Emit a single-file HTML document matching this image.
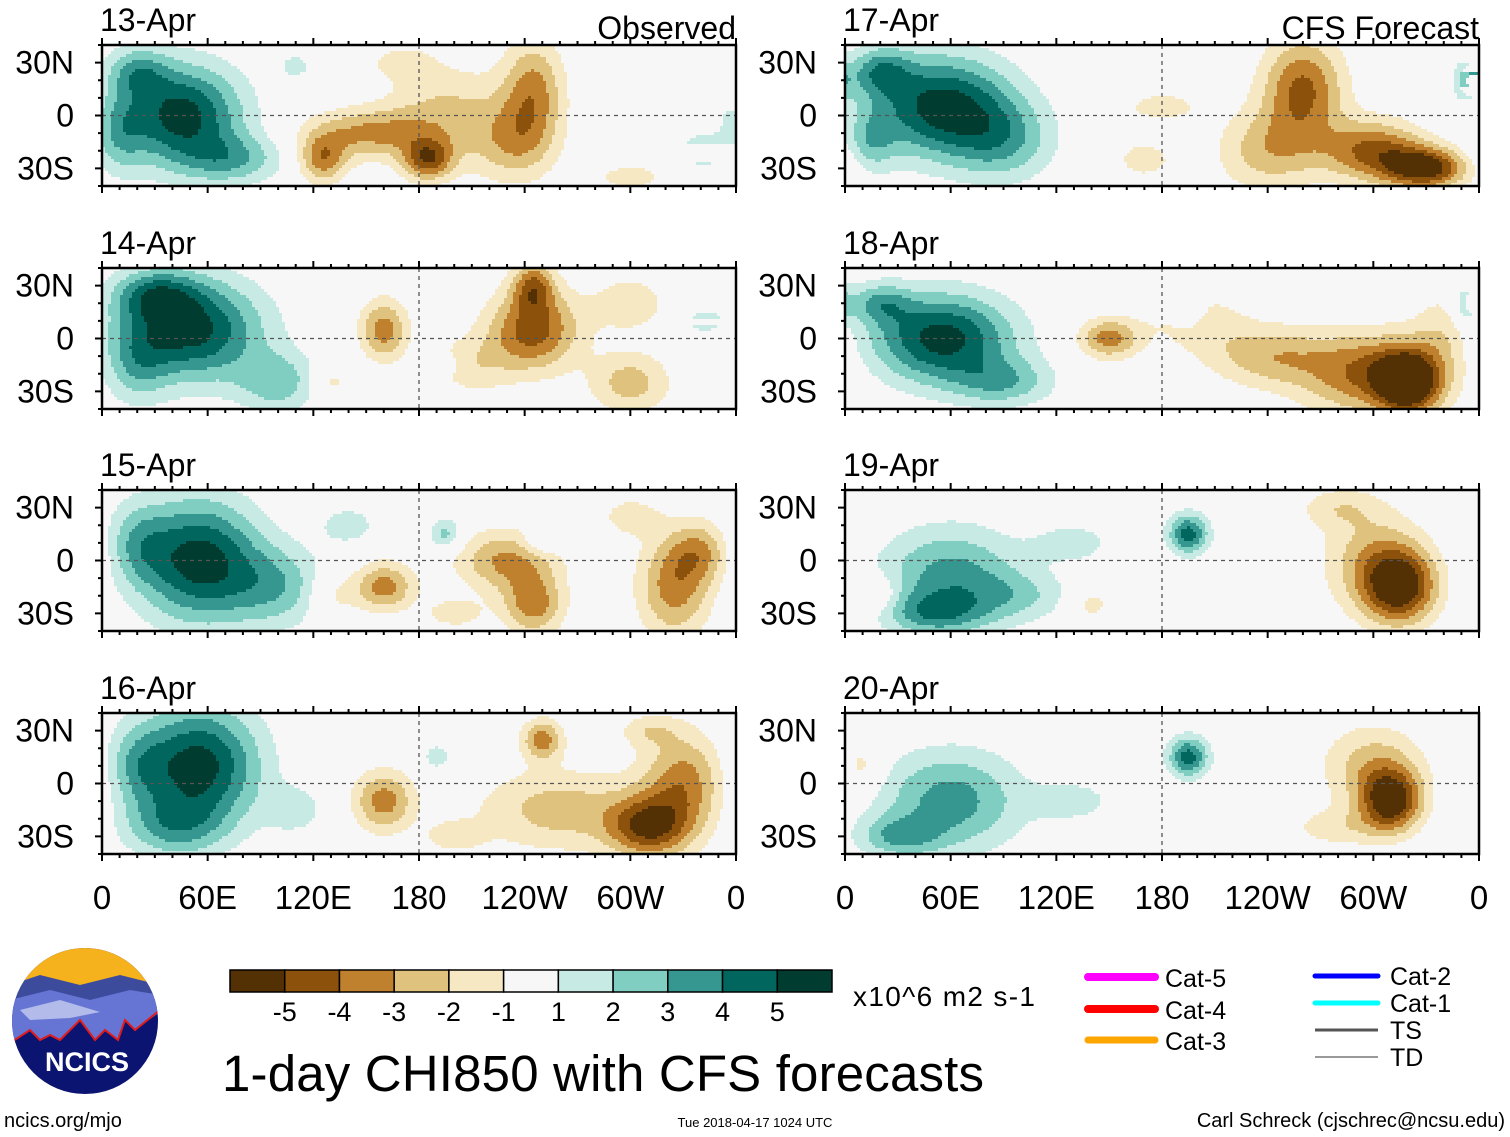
<!DOCTYPE html>
<html><head><meta charset="utf-8"><style>
body{margin:0;background:#fff;}
svg{display:block;font-family:"Liberation Sans",sans-serif;}
</style></head><body>
<svg id="fig" width="1510" height="1137" viewBox="0 0 1510 1137" xmlns="http://www.w3.org/2000/svg">
<g id="panels"></g>
<g id="cbar"></g>
<text x="853" y="1006" font-size="28" textLength="182">x10^6 m2 s-1</text>
<text x="222" y="1091" font-size="51" textLength="762">1-day CHI850 with CFS forecasts</text>
<text x="4" y="1127" font-size="20">ncics.org/mjo</text>
<text x="755" y="1127" font-size="13" text-anchor="middle">Tue 2018-04-17 1024 UTC</text>
<text x="1505" y="1127" font-size="20" text-anchor="end">Carl Schreck (cjschrec@ncsu.edu)</text>
<g>
<clipPath id="lc"><circle cx="85" cy="1021" r="73"/></clipPath>
<g clip-path="url(#lc)">
<rect x="10" y="945" width="150" height="155" fill="#0b1470"/>
<rect x="10" y="945" width="150" height="45" fill="#f6b21c"/>
<path d="M10 985 L40 975 L80 985 L120 975 L160 985 L160 1010 L10 1010Z" fill="#3d4b9c"/>
<path d="M10 1000 L50 990 L90 1000 L130 990 L160 995 L160 1012 L135 1030 L125 1020 L118 1040 L105 1030 L95 1040 L80 1020 L60 1040 L50 1035 L40 1040 L30 1030 L10 1043Z" fill="#6675d4"/>
<path d="M20 1010 L60 1000 L100 1012 L70 1018 L30 1020Z" fill="#b3bbea"/>
<path d="M10 1043 L30 1030 L40 1040 L50 1035 L60 1040 L80 1020 L95 1040 L105 1030 L118 1040 L125 1020 L135 1030 L160 1010" fill="none" stroke="#e01b1b" stroke-width="2"/>
</g>
<text x="87" y="1071" font-size="27" font-weight="bold" fill="#fff" text-anchor="middle">NCICS</text>
</g>
<g font-size="25">
<line x1="1088" y1="977" x2="1155" y2="977" stroke="#ff00ff" stroke-width="8" stroke-linecap="round"/><text x="1165" y="987">Cat-5</text>
<line x1="1088" y1="1009" x2="1155" y2="1009" stroke="#ff0000" stroke-width="8" stroke-linecap="round"/><text x="1165" y="1019">Cat-4</text>
<line x1="1088" y1="1040" x2="1155" y2="1040" stroke="#ffa500" stroke-width="7" stroke-linecap="round"/><text x="1165" y="1050">Cat-3</text>
<line x1="1315" y1="976" x2="1378" y2="976" stroke="#0000ff" stroke-width="5" stroke-linecap="round"/><text x="1390" y="985">Cat-2</text>
<line x1="1315" y1="1003" x2="1378" y2="1003" stroke="#00ffff" stroke-width="5" stroke-linecap="round"/><text x="1390" y="1012">Cat-1</text>
<line x1="1315" y1="1030" x2="1378" y2="1030" stroke="#555" stroke-width="3"/><text x="1390" y="1039">TS</text>
<line x1="1315" y1="1057" x2="1378" y2="1057" stroke="#999" stroke-width="2"/><text x="1390" y="1066">TD</text>
</g>
</svg>
<script>
const panelTitles = ["13-Apr","14-Apr","15-Apr","16-Apr","17-Apr","18-Apr","19-Apr","20-Apr"];
const lonTicks = [0,60,120,180,240,300,360];
const lonLabels = ["0","60E","120E","180","120W","60W","0"];
const latTicks = [30,0,-30];
const latLabels = ["30N","0","30S"];
const cbarLevels = ["-5","-4","-3","-2","-1","1","2","3","4","5"];
const cbarColors = ["#543005","#8c510a","#bf812d","#dfc27d","#f6e8c3","#f7f7f7","#c7eae5","#80cdc1","#35978f","#01665e","#003c30"];
// anomaly centres: [lon, lat, peak value, lonRadius, latRadius]
const blobs13 = [[45,0,5.5,30,25],[20,25,2.5,15,12],[75,-25,2.5,25,12],[10,-10,2,12,20],[340,-20,1.5,12,10],[110,28,1.5,8,6],[150,-10,-3,30,12],[125,-25,-3.5,12,12],[185,-25,-4,12,10],[195,0,-2.2,30,25],[245,15,-3.2,15,25],[235,-15,-2.5,20,20],[300,-35,-1.4,20,8],[170,30,-1.4,15,8]];
const blobs14 = [[50,5,5.5,35,25],[30,25,3,20,12],[100,-25,2.5,20,15],[20,-15,2,15,20],[190,-15,1.4,10,5],[340,10,1.4,8,6],[160,5,-3.5,12,15],[245,5,-4.5,22,20],[245,30,-3.5,10,12],[210,-15,-1.6,20,15],[300,-25,-2.5,20,15],[300,20,-1.6,20,15],[130,-25,-1.5,10,8]];
const blobs15 = [[55,0,5.5,30,30],[100,-15,2.5,25,20],[20,10,2,15,20],[195,15,2.5,8,8],[250,10,1.5,10,6],[140,20,1.5,15,10],[160,-15,-3.5,15,12],[230,0,-3.2,25,15],[245,-25,-3.5,15,15],[325,-15,-3.5,18,25],[340,5,-2.5,15,15],[130,-20,-1.5,12,12],[200,-30,-1.5,15,8],[300,25,-1.5,15,10]];
const blobs16 = [[55,10,5.5,30,30],[40,-25,2.5,25,15],[20,10,2,15,20],[110,-15,1.5,15,12],[190,15,1.5,8,8],[160,-10,-3.5,15,15],[250,25,-3.5,10,10],[260,-15,-2.5,40,20],[310,-25,-4.5,20,15],[330,0,-3.5,20,25],[200,-30,-1.5,15,8],[310,30,-1.5,15,8]];
const blobs17 = [[55,5,5.5,35,25],[20,25,3,15,12],[90,-15,2.5,25,20],[15,-15,2,12,15],[355,20,2.5,8,10],[260,15,-4.2,20,25],[300,-20,-4.2,25,15],[330,-30,-5.5,20,10],[240,-20,-2.5,25,20],[170,-25,-1.5,15,10],[180,5,-1.5,20,8]];
const blobs18 = [[55,0,5.5,35,22],[20,20,2.5,15,10],[195,15,1.5,8,8],[90,-25,2.5,25,12],[355,20,2.5,8,10],[150,0,-3.5,15,10],[300,-20,-4.2,35,20],[320,-25,-5.5,15,15],[240,-10,-2.5,30,15],[200,10,-1.5,25,15],[340,5,-1.5,15,20]];
const blobs19 = [[60,-10,3.5,35,25],[195,15,4.5,10,10],[50,-30,2.5,25,10],[130,10,1.5,20,10],[100,-20,1.5,25,12],[315,-15,-5.5,18,18],[300,0,-2.5,25,25],[280,30,-1.5,20,10],[20,-20,-1.5,10,10],[140,-25,-1.5,10,8]];
const blobs20 = [[60,-10,3.5,35,25],[195,15,4.5,10,10],[30,-30,2.5,20,10],[130,-10,1.5,20,10],[310,-10,-5.5,15,15],[300,10,-2.5,25,20],[280,-25,-1.5,25,10],[10,10,-1.5,10,12]];
const allBlobs = [blobs13,blobs14,blobs15,blobs16,blobs17,blobs18,blobs19,blobs20];

const NS="http://www.w3.org/2000/svg";
const W=634,H=141,C=3,SPREAD=1.15;
const xS = lon => lon/360*W;
const yS = lat => H/2 - lat*H/80;
function mk(tag,attrs,parent){const e=document.createElementNS(NS,tag);for(const k in attrs)e.setAttribute(k,attrs[k]);parent.appendChild(e);return e;}
function field(bl,lon,lat){let v=0;bl.forEach(b=>{let d=Math.abs(lon-b[0]);if(d>180)d=360-d;const dx=d/(b[3]*SPREAD),dy=(lat-b[1])/(b[4]*SPREAD);v+=b[2]*Math.exp(-(dx*dx+dy*dy));});return v;}
function idx(v){if(v>=1)return 5+Math.min(5,Math.floor(v));if(v<=-1)return 5-Math.min(5,Math.floor(-v));return 5;}
const root=document.getElementById('panels');
const lefts=[102,845], tops=[45,268,490,713];
for(let p=0;p<8;p++){
  const px=lefts[Math.floor(p/4)], py=tops[p%4];
  const g=mk('g',{transform:`translate(${px},${py})`},root);
  
  
  mk('rect',{x:0,y:0,width:W,height:H,fill:'#f7f7f7'},g);
  const fg=mk('g',{'shape-rendering':'crispEdges'},g);
  for(let y=0;y<H;y+=C){
    const lat=(H/2-(y+C/2))*80/H;
    let runStart=0,runIdx=null;
    for(let x=0;x<=W;x+=C){
      const i = x<W ? idx(field(allBlobs[p],(x+C/2)/W*360,lat)) : -1;
      if(i!==runIdx){
        if(runIdx!==null && runIdx!==5){
          const r=mk('rect',{x:runStart,y:y,width:Math.min(x,W)-runStart,height:Math.min(C,H-y),fill:cbarColors[runIdx]},fg);
          
          
        }
        runStart=x;runIdx=i;
      }
    }
  }
  mk('line',{x1:0,y1:yS(0),x2:W,y2:yS(0),stroke:'#555','stroke-width':1.3,'stroke-dasharray':'4,4'},g);
  mk('line',{x1:xS(180),y1:0,x2:xS(180),y2:H,stroke:'#555','stroke-width':1.3,'stroke-dasharray':'4,4'},g);
  mk('rect',{x:0,y:0,width:W,height:H,fill:'none',stroke:'#000','stroke-width':2.5},g);
  for(let lon=0;lon<=360;lon+=10){
    const L=lon%60===0?7:4;
    mk('line',{x1:xS(lon),y1:0,x2:xS(lon),y2:-L,stroke:'#000','stroke-width':2},g);
    mk('line',{x1:xS(lon),y1:H,x2:xS(lon),y2:H+L,stroke:'#000','stroke-width':2},g);
  }
  for(let lat=-40;lat<=40;lat+=10){
    const L=lat%30===0?7:4;
    mk('line',{x1:0,y1:yS(lat),x2:-L,y2:yS(lat),stroke:'#000','stroke-width':2},g);
  }
  const t=mk('text',{x:-2,y:-14,'font-size':32},g);t.textContent=panelTitles[p];
  
  
  if(p%4===0){
    const h=mk('text',{x:W,y:-6,'font-size':32,'text-anchor':'end'},g);h.textContent=p===0?'Observed':'CFS Forecast';
    
    
  }
  latTicks.forEach((lat,i)=>{
    const lt=mk('text',{x:-28,y:yS(lat)+11,'font-size':32,'text-anchor':'end'},g);lt.textContent=latLabels[i];
    
    
  });
  if(p%4===3){
    lonTicks.forEach((lon,i)=>{
      const lt=mk('text',{x:xS(lon),y:H+55,'font-size':33,'text-anchor':'middle'},g);lt.textContent=lonLabels[i];
      
      
    });
  }
}
const cb=document.getElementById('cbar');
const bw=(832-230)/11;
cbarColors.forEach((c,i)=>{
  const r=mk('rect',{x:230+i*bw,y:970,width:bw,height:22,fill:c,stroke:'#000','stroke-width':1.5},cb);
  
  
});
cbarLevels.forEach((l,i)=>{
  const t=mk('text',{x:230+(i+1)*bw,y:1021,'font-size':27,'text-anchor':'middle'},cb);t.textContent=l;
  
  
});
</script>
</body></html>
